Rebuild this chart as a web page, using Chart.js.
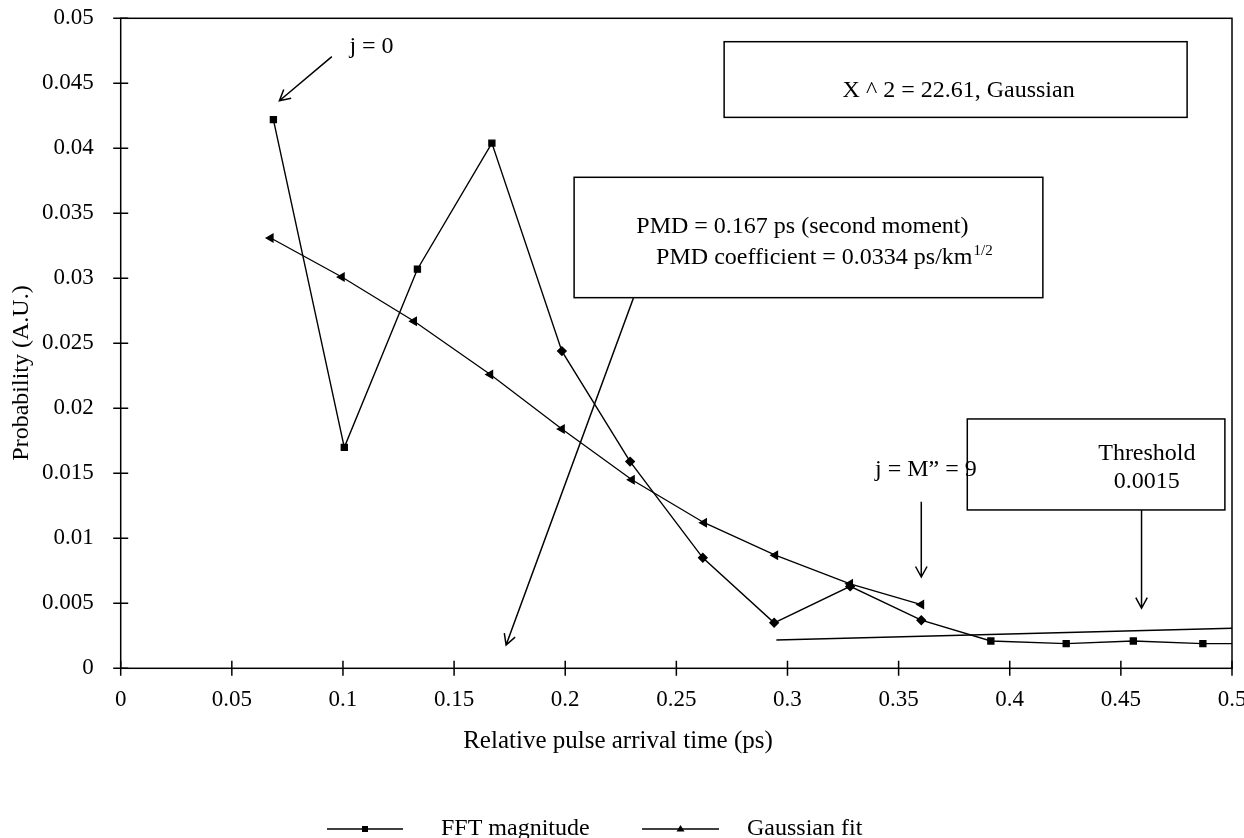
<!DOCTYPE html>
<html>
<head>
<meta charset="utf-8">
<script src="https://cdn.jsdelivr.net/npm/chart.js@4.4.1/dist/chart.umd.min.js"></script>
<style>
    html, body { margin: 0; padding: 0; background: #fff; }
    #wrap { width: 1244px; height: 838px; position: relative; }
</style>
</head>
<body>
<div id="wrap"><canvas id="pmdChart"></canvas></div>
<script>
// ============================================
// DATOS
// ============================================

const fftTimes  = [0.0687, 0.1006, 0.1335, 0.1670, 0.1985, 0.2292, 0.2619, 0.2940, 0.3282, 0.3602, 0.3915, 0.4254, 0.4556, 0.4869, 0.5190];
const fftValues = [0.0422, 0.0170, 0.0307, 0.0404, 0.0244, 0.0159, 0.0085, 0.0035, 0.0063, 0.0037, 0.0021, 0.0019, 0.0021, 0.0019, 0.0019];

const fitTimes  = [0.0675, 0.0995, 0.1320, 0.1663, 0.1985, 0.2300, 0.2625, 0.2945, 0.3282, 0.3602];
const fitValues = [0.0331, 0.0301, 0.0267, 0.0226, 0.0184, 0.0145, 0.0112, 0.0087, 0.0065, 0.0049];

const trendTimes  = [0.295, 0.5];
const trendValues = [0.00218, 0.00308];

const xTicks = [0, 0.05, 0.1, 0.15, 0.2, 0.25, 0.3, 0.35, 0.4, 0.45, 0.5];
const yTicks = [0, 0.005, 0.01, 0.015, 0.02, 0.025, 0.03, 0.035, 0.04, 0.045, 0.05];

const FONT = "'Liberation Serif', 'Times New Roman', serif";

function toPoints(xs, ys) {
    return xs.map((x, i) => ({ x: x, y: ys[i] }));
}

function fmtTick(v) {
    return String(parseFloat(Number(v).toFixed(4)));
}

// ============================================
// DIBUJO AUXILIAR
// ============================================

function drawArrow(ctx, x1, y1, x2, y2) {
    const ang = Math.atan2(y2 - y1, x2 - x1);
    const len = 12;
    const spread = 0.5;
    ctx.beginPath();
    ctx.moveTo(x1, y1);
    ctx.lineTo(x2, y2);
    ctx.moveTo(x2 - len * Math.cos(ang - spread), y2 - len * Math.sin(ang - spread));
    ctx.lineTo(x2, y2);
    ctx.lineTo(x2 - len * Math.cos(ang + spread), y2 - len * Math.sin(ang + spread));
    ctx.stroke();
}

function drawBox(ctx, x1, y1, x2, y2) {
    ctx.fillStyle = '#fff';
    ctx.fillRect(x1, y1, x2 - x1, y2 - y1);
    ctx.strokeRect(x1, y1, x2 - x1, y2 - y1);
    ctx.fillStyle = '#000';
}

const framePlugin = {
    id: 'frameAndNotes',
    afterDraw(chart) {
        const ctx = chart.ctx;
        const area = chart.chartArea;
        const xs = chart.scales.x;
        const ys = chart.scales.y;
        const px = v => xs.getPixelForValue(v);
        const py = v => ys.getPixelForValue(v);

        ctx.save();
        ctx.strokeStyle = '#000';
        ctx.fillStyle = '#000';

        // marco del área
        ctx.lineWidth = 1.5;
        ctx.strokeRect(area.left, area.top, area.right - area.left, area.bottom - area.top);

        // marcas que cruzan los ejes
        ctx.beginPath();
        yTicks.forEach(v => {
            const y = py(v);
            ctx.moveTo(area.left - 7.5, y);
            ctx.lineTo(area.left + 7.5, y);
        });
        xTicks.forEach(v => {
            const x = px(v);
            ctx.moveTo(x, area.bottom - 7.5);
            ctx.lineTo(x, area.bottom + 7.5);
        });
        ctx.stroke();

        // títulos de ejes
        ctx.textAlign = 'center';
        ctx.textBaseline = 'middle';
        ctx.font = '25px ' + FONT;
        ctx.fillText('Relative pulse arrival time (ps)', 618, 741);
        ctx.font = '24px ' + FONT;
        ctx.save();
        ctx.translate(22, 373);
        ctx.rotate(-Math.PI / 2);
        ctx.fillText('Probability (A.U.)', 0, 0);
        ctx.restore();

        // cajas de texto
        ctx.lineWidth = 1.5;
        ctx.textBaseline = 'alphabetic';

        drawBox(ctx, px(0.2715), py(0.0482), px(0.4798), py(0.04238));
        ctx.textAlign = 'center';
        ctx.fillText('X ^ 2 = 22.61, Gaussian', px(0.377), py(0.04397));

        drawBox(ctx, px(0.2040), py(0.03777), px(0.4149), py(0.02851));
        ctx.fillText('PMD = 0.167 ps (second moment)', px(0.3067), py(0.03346));
        ctx.textAlign = 'left';
        const l2 = 'PMD coefficient = 0.0334 ps/km';
        const l2x = px(0.2409);
        const l2y = py(0.0311);
        ctx.fillText(l2, l2x, l2y);
        const w2 = ctx.measureText(l2).width;
        ctx.font = '15px ' + FONT;
        ctx.fillText('1/2', l2x + w2 + 1, l2y - 9);
        ctx.font = '24px ' + FONT;

        drawBox(ctx, px(0.3809), py(0.01918), px(0.4968), py(0.01218));
        ctx.textAlign = 'center';
        ctx.fillText('Threshold', px(0.4617), py(0.01602));
        ctx.fillText('0.0015', px(0.4617), py(0.01385));

        ctx.textAlign = 'left';
        ctx.fillText('j = 0', px(0.1029), py(0.04731));
        ctx.fillText('j = M\u201D = 9', px(0.3394), py(0.01479));

        // flechas
        ctx.lineWidth = 1.5;
        drawArrow(ctx, px(0.095), py(0.04705), px(0.0714), py(0.04366));
        drawArrow(ctx, px(0.2307), py(0.02848), px(0.1734), py(0.00179));
        drawArrow(ctx, px(0.3602), py(0.01282), px(0.3602), py(0.00702));
        drawArrow(ctx, px(0.4593), py(0.01218), px(0.4593), py(0.00462));

        // leyenda
        const legendY = 829;
        const items = [
            { ds: chart.data.datasets[0], x0: 327, x1: 403, tx: 441 },
            { ds: chart.data.datasets[1], x0: 642, x1: 719, tx: 747 }
        ];
        ctx.font = '24px ' + FONT;
        ctx.textBaseline = 'middle';
        ctx.lineWidth = 1.5;
        items.forEach((it, i) => {
            ctx.beginPath();
            ctx.moveTo(it.x0, legendY);
            ctx.lineTo(it.x1, legendY);
            ctx.stroke();
            const mx = (it.x0 + it.x1) / 2;
            ctx.beginPath();
            if (i === 0) {
                ctx.rect(mx - 3, legendY - 3, 6, 6);
            } else {
                ctx.moveTo(mx, legendY - 4);
                ctx.lineTo(mx + 4, legendY + 2.5);
                ctx.lineTo(mx - 4, legendY + 2.5);
                ctx.closePath();
            }
            ctx.fill();
            ctx.fillText(it.ds.label, it.tx, legendY);
        });

        ctx.restore();
    }
};

// ============================================
// GRÁFICO
// ============================================

function createPmdChart() {
    const ctx = document.getElementById('pmdChart');

    new Chart(ctx, {
        type: 'line',
        data: {
            datasets: [
                {
                    label: 'FFT magnitude',
                    data: toPoints(fftTimes, fftValues),
                    borderColor: '#000',
                    backgroundColor: '#000',
                    borderWidth: 1.4,
                    pointStyle: c => (c.dataIndex >= 4 && c.dataIndex <= 9) ? 'rectRot' : 'rect',
                    pointRadius: 4.2,
                    tension: 0
                },
                {
                    label: 'Gaussian fit',
                    data: toPoints(fitTimes, fitValues),
                    borderColor: '#000',
                    backgroundColor: '#000',
                    borderWidth: 1.3,
                    pointStyle: 'triangle',
                    pointRotation: -90,
                    pointRadius: 4.5,
                    tension: 0
                },
                {
                    label: 'trend',
                    data: toPoints(trendTimes, trendValues),
                    borderColor: '#000',
                    borderWidth: 1.4,
                    pointRadius: 0,
                    tension: 0
                }
            ]
        },
        options: {
            responsive: true,
            maintainAspectRatio: false,
            animation: false,
            layout: { padding: { top: 18.3, right: 12, left: 0, bottom: 0 } },
            plugins: {
                legend: { display: false },
                tooltip: { enabled: false }
            },
            scales: {
                x: {
                    type: 'linear',
                    min: 0,
                    max: 0.5,
                    grid: { display: false },
                    border: { display: false },
                    ticks: {
                        color: '#000',
                        font: { family: FONT, size: 23 },
                        padding: 10,
                        maxRotation: 0,
                        callback: fmtTick
                    },
                    afterBuildTicks: s => { s.ticks = xTicks.map(v => ({ value: v })); },
                    afterFit: s => { s.height = 169.7; s.paddingLeft = 0; s.paddingRight = 0; }
                },
                y: {
                    type: 'linear',
                    min: 0,
                    max: 0.05,
                    grid: { display: false },
                    border: { display: false },
                    ticks: {
                        color: '#000',
                        font: { family: FONT, size: 23 },
                        padding: 19,
                        callback: fmtTick
                    },
                    afterBuildTicks: s => { s.ticks = yTicks.map(v => ({ value: v })); },
                    afterFit: s => { s.width = 120.7; s.paddingTop = 0; s.paddingBottom = 0; }
                }
            }
        },
        plugins: [framePlugin]
    });
}

document.addEventListener('DOMContentLoaded', createPmdChart);
</script>
</body>
</html>
